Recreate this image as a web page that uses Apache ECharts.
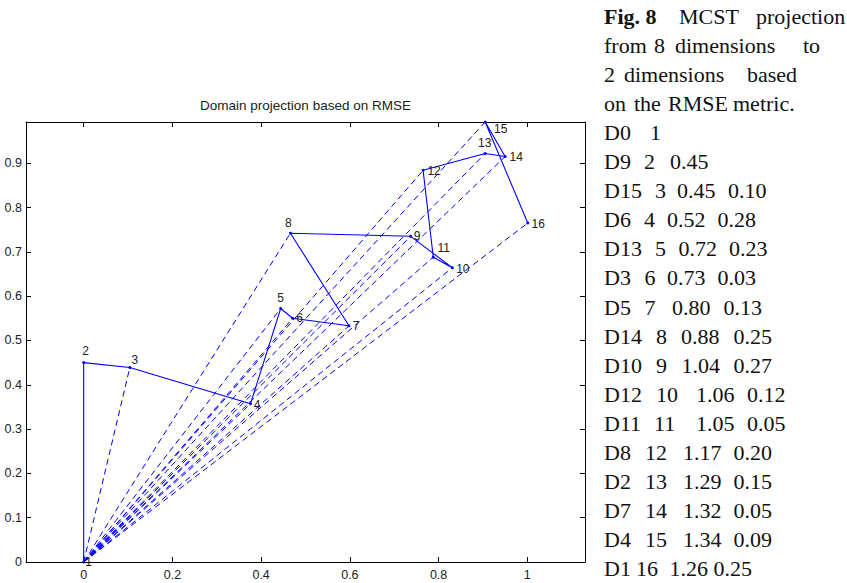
<!DOCTYPE html>
<html>
<head>
<meta charset="utf-8">
<script src="https://cdn.jsdelivr.net/npm/echarts@6/dist/echarts.min.js"></script>
<style>
html,body{margin:0;padding:0;background:#fff;}
#chart{width:847px;height:583px;}
</style>
</head>
<body>
<div id="chart"></div>
<script>
// ---- data ----
var pointIds = ['1','2','3','4','5','6','7','8','9','10','11','12','13','14','15','16'];
var xs = [0, 0, 0.104, 0.376, 0.444, 0.471, 0.598, 0.466, 0.737, 0.831, 0.788, 0.765, 0.905, 0.950, 0.905, 1.001];
var ys = [0, 0.450, 0.439, 0.357, 0.572, 0.550, 0.533, 0.742, 0.735, 0.664, 0.688, 0.884, 0.922, 0.915, 0.993, 0.765];
var dimNames = ['D0','D9','D15','D6','D13','D3','D5','D14','D10','D12','D11','D8','D2','D7','D4','D1'];
var distA = [null, 0.45, 0.45, 0.52, 0.72, 0.73, 0.80, 0.88, 1.04, 1.06, 1.05, 1.17, 1.29, 1.32, 1.34, 1.26];
var distB = [null, null, 0.10, 0.28, 0.23, 0.03, 0.13, 0.25, 0.27, 0.12, 0.05, 0.20, 0.15, 0.05, 0.09, 0.25];
var xTicks = [0, 0.2, 0.4, 0.6, 0.8, 1];
var yTicks = [0, 0.1, 0.2, 0.3, 0.4, 0.5, 0.6, 0.7, 0.8, 0.9];
var titleText = 'Domain projection based on RMSE';
var captionHead = [
  [['Fig. 8', true], ['MCST'], ['projection']],
  [['from'], ['8'], ['dimensions'], ['to']],
  [['2'], ['dimensions'], ['based']],
  [['on'], ['the'], ['RMSE'], ['metric.']]
];

// ---- layout / style (not data) ----
var labelOffsets = [[5,0],[2,-12],[5,-7],[6.5,1],[0,-11],[7,0],[7,0.5],[-2,-10],[6.5,0],[10.5,1],[10.5,-9],[11,0.5],[-0.5,-10.5],[11,0],[15.5,6.5],[10.5,0.5]];
var headCols = [[604,679,756],[604,654,675,803],[604,624,747],[604,634,668,733]];
var rowCols = [[604,650],[604,644,670],[604,655,677,728],[604,644,667,717.5],[604,655,678.5,729],[604,644.5,667,717.5],
  [604,644.5,672,723.5],[604,656,681,733.5],[604,656,681.5,733.5],[604,656,696,747],[604,654,696,747],[604,645,683,733.5],
  [604,645,683,733.5],[604,645,683,733.5],[604,645,683,733.5],[604,636,669.5,713.5]];

var BLUE = '#0000ff';
var sansFont = '"Liberation Sans", Arial, Helvetica, sans-serif';
var serifFont = '"Liberation Serif", "Times New Roman", serif';
var capSize = 22;

var pathData = xs.map(function (x, i) {
  return {
    value: [x, ys[i]],
    label: { offset: labelOffsets[i] }
  };
});
var rayData = [];
for (var i = 2; i < xs.length; i++) {
  rayData.push({ coords: [[xs[0], ys[0]], [xs[i], ys[i]]] });
}

// caption graphics
var graphics = [];
graphics.push({
  type: 'text', x: 305.5, y: 105,
  style: { text: titleText, fontSize: 13.5, fontFamily: sansFont, fill: '#222', align: 'center', verticalAlign: 'middle' }
});
var lineH = 29.1, y0 = 16;
captionHead.forEach(function (line, li) {
  line.forEach(function (w, wi) {
    graphics.push({
      type: 'text', x: headCols[li][wi], y: y0 + lineH * li,
      style: { text: w[0], fontSize: capSize, fontWeight: w[1] ? 'bold' : 'normal', fontFamily: serifFont, fill: '#111', align: 'left', verticalAlign: 'middle' }
    });
  });
});
dimNames.forEach(function (d, ri) {
  var toks = [d, pointIds[ri]];
  if (distA[ri] !== null) toks.push(distA[ri].toFixed(2));
  if (distB[ri] !== null) toks.push(distB[ri].toFixed(2));
  toks.forEach(function (t, ti) {
    graphics.push({
      type: 'text', x: rowCols[ri][ti], y: y0 + lineH * (ri + 4),
      style: { text: t, fontSize: capSize, fontFamily: serifFont, fill: '#111', align: 'left', verticalAlign: 'middle' }
    });
  });
});

function axisCommon(showLabel, ticks) {
  return {
    type: 'value',
    axisLine: { show: true, onZero: false, lineStyle: { color: '#000', width: 1 } },
    axisTick: { show: true, inside: true, length: 5, customValues: ticks, lineStyle: { color: '#000', width: 1 } },
    axisLabel: { show: showLabel, customValues: ticks, color: '#222', fontSize: 12.5, fontFamily: sansFont },
    splitLine: { show: false }
  };
}
var xBottom = axisCommon(true, xTicks); xBottom.position = 'bottom'; xBottom.min = -0.13; xBottom.max = 1.13; xBottom.axisLabel.margin = 6;
var xTop = axisCommon(false, xTicks); xTop.position = 'top'; xTop.min = -0.13; xTop.max = 1.13;
var yLeft = axisCommon(true, yTicks); yLeft.position = 'left'; yLeft.min = 0; yLeft.max = 0.993; yLeft.axisLabel.margin = 4;
var yRight = axisCommon(false, yTicks); yRight.position = 'right'; yRight.min = 0; yRight.max = 0.993;

var chart = echarts.init(document.getElementById('chart'), null, { renderer: 'svg' });
chart.setOption({
  animation: false,
  backgroundColor: '#fff',
  grid: { left: 26, right: 262, top: 122, bottom: 21, containLabel: false },
  xAxis: [xBottom, xTop],
  yAxis: [yLeft, yRight],
  graphic: graphics,
  series: [
    {
      type: 'lines',
      coordinateSystem: 'cartesian2d',
      xAxisIndex: 0, yAxisIndex: 0,
      polyline: false,
      silent: true,
      lineStyle: { color: BLUE, width: 1, type: [6, 4], opacity: 1, curveness: 0 },
      data: rayData,
      z: 2
    },
    {
      type: 'line',
      xAxisIndex: 0, yAxisIndex: 0,
      data: pathData,
      showSymbol: true,
      symbol: 'circle',
      symbolSize: 3,
      itemStyle: { color: BLUE },
      lineStyle: { color: BLUE, width: 1.1 },
      label: {
        show: true,
        position: 'inside',
        formatter: function (p) { return pointIds[p.dataIndex]; },
        color: '#222', fontSize: 12, fontFamily: sansFont,
        align: 'center', verticalAlign: 'middle'
      },
      z: 3
    }
  ]
});
</script>
</body>
</html>
